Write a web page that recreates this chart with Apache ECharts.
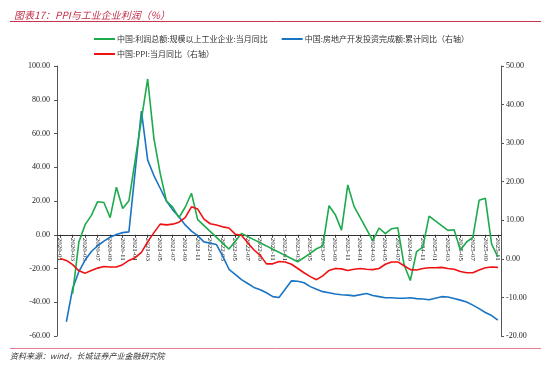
<!DOCTYPE html>
<html>
<head>
<meta charset="utf-8">
<script src="https://cdn.jsdelivr.net/npm/echarts@6/dist/echarts.min.js"></script>
<style>html,body{margin:0;padding:0;background:#fff;}#c{width:550px;height:375px;}</style>
</head>
<body>
<div id="c"></div>
<script>
const categories = [
'2020-01','2020-02','2020-03','2020-04','2020-05','2020-06','2020-07','2020-08','2020-09','2020-10','2020-11','2020-12',
'2021-01','2021-02','2021-03','2021-04','2021-05','2021-06','2021-07','2021-08','2021-09','2021-10','2021-11','2021-12',
'2022-01','2022-02','2022-03','2022-04','2022-05','2022-06','2022-07','2022-08','2022-09','2022-10','2022-11','2022-12',
'2023-01','2023-02','2023-03','2023-04','2023-05','2023-06','2023-07','2023-08','2023-09','2023-10','2023-11','2023-12',
'2024-01','2024-02','2024-03','2024-04','2024-05','2024-06','2024-07','2024-08','2024-09','2024-10','2024-11','2024-12',
'2025-01','2025-02','2025-03','2025-04','2025-05','2025-06','2025-07','2025-08','2025-09','2025-10','2025-11'];

// 中国:利润总额:规模以上工业企业:当月同比 (left axis)
const profitYoY = [
null,null,-34.9,-4.3,6.0,11.5,19.6,19.1,10.1,28.2,15.5,20.1,
null,null,92.3,57.0,36.4,20.0,16.4,10.1,16.3,24.6,9.0,null,
null,null,null,-8.5,null,0.8,null,null,null,null,null,null,
null,null,-16.0,null,-11.0,-8.3,-6.7,17.2,11.9,2.7,29.5,16.8,
null,null,-3.5,4.0,0.7,3.6,4.1,-17.8,-27.1,-10.0,-7.3,11.0,
null,null,2.6,3.0,-9.1,-4.3,-1.5,20.4,21.6,-5.5,-13.1];

// 中国:房地产开发投资完成额:累计同比 (right axis)
const realEstateYoY = [
null,-16.3,-7.7,-3.3,-0.3,1.9,3.4,4.6,5.6,6.3,6.8,7.0,
null,38.3,25.6,21.6,18.3,15.0,12.7,10.9,8.8,7.2,6.0,4.4,
null,3.7,0.7,-2.7,-4.0,-5.4,-6.4,-7.4,-8.0,-8.8,-9.8,-10.0,
null,-5.7,-5.8,-6.2,-7.2,-7.9,-8.5,-8.8,-9.1,-9.3,-9.4,-9.6,
null,-9.0,-9.5,-9.8,-10.1,-10.1,-10.2,-10.2,-10.1,-10.3,-10.4,-10.6,
null,-9.8,-9.9,-10.3,-10.7,-11.2,-12.0,-12.9,-13.9,-14.7,-15.9];

// 中国:PPI:当月同比 (right axis)
const ppiYoY = [
0.1,-0.4,-1.5,-3.1,-3.7,-3.0,-2.4,-2.0,-2.1,-2.1,-1.5,-0.4,
0.3,1.7,4.4,6.8,9.0,8.8,9.0,9.5,10.7,13.5,12.9,10.3,
9.1,8.8,8.3,8.0,6.4,6.1,4.2,2.3,0.9,-1.3,-1.3,-0.7,
-0.8,-1.4,-2.5,-3.6,-4.6,-5.4,-4.4,-3.0,-2.5,-2.6,-3.0,-2.7,
-2.5,-2.7,-2.8,-2.5,-1.4,-0.8,-0.8,-1.8,-2.8,-2.9,-2.5,-2.3,
-2.3,-2.2,-2.5,-2.7,-3.3,-3.6,-3.6,-2.9,-2.3,-2.1,-2.2];

const seriesNames = ['中国:利润总额:规模以上工业企业:当月同比','中国:房地产开发投资完成额:累计同比（右轴）','中国:PPI:当月同比（右轴）'];
const titleText = '图表17：PPI与工业企业利润（%）';
const sourceText = '资料来源：wind，长城证券产业金融研究院';

const cjk = '"Noto Sans CJK SC", sans-serif';
const serif = '"Liberation Serif", "DejaVu Serif", serif';
const gridTop = 66, gridBottom = 39, H = 375;
const leftMin = -60, leftMax = 100;
const plotH = H - gridTop - gridBottom;
const zeroOffset = -plotH * (0 - leftMin) / (leftMax - leftMin); // place x axis at left-axis zero

const chart = echarts.init(document.getElementById('c'), null, {renderer:'canvas'});
chart.setOption({
  animation: false,
  backgroundColor: '#fff',
  title: {text: titleText, left: 9, top: 5,
    textStyle: {fontSize: 10, fontStyle: 'italic', fontWeight: 'normal', color: '#c0304a', fontFamily: cjk}},
  graphic: [
    {type:'line', shape:{x1:10,y1:21.5,x2:541,y2:21.5}, style:{stroke:'#c8344e', lineWidth:1}},
    {type:'line', shape:{x1:10,y1:348.5,x2:541,y2:348.5}, style:{stroke:'#e8808f', lineWidth:1}},
    {type:'text', left:10, top:352, style:{text: sourceText, fontSize:8, fontStyle:'italic', fill:'#333', fontFamily: cjk}}
  ],
  legend: [
    {data:[seriesNames[0], seriesNames[1]], left: 89, top: 30, itemWidth: 21, itemHeight: 2, itemGap: 14, icon:'rect',
     textStyle:{fontSize: 8, color:'#333', fontFamily: cjk, padding:[0,0,0,-3]}},
    {data:[seriesNames[2]], left: 89, top: 45, itemWidth: 21, itemHeight: 2, icon:'rect',
     textStyle:{fontSize: 8, color:'#333', fontFamily: cjk, padding:[0,0,0,-3]}}
  ],
  grid: {left: 57, right: 49, top: gridTop, bottom: gridBottom, containLabel: false},
  xAxis: {
    type: 'category', data: categories, boundaryGap: true, position: 'bottom', offset: zeroOffset,
    axisLine: {onZero: false, lineStyle:{color:'#333', width:1}},
    axisTick: {show: true, interval: 1, alignWithLabel: true, length: 3, lineStyle:{color:'#333'}},
    axisLabel: {interval: 1, rotate: -90, fontSize: 7, margin: 3, color:'#222', fontFamily: serif},
    splitLine: {show:false}
  },
  yAxis: [
    {type:'value', min:leftMin, max:leftMax, interval:20, position:'left',
     axisLine:{show:true, lineStyle:{color:'#555'}}, axisTick:{show:true, length:3, lineStyle:{color:'#555'}},
     axisLabel:{formatter: v => v.toFixed(2), fontSize: 8, color:'#222', fontFamily: serif, margin: 7},
     splitLine:{show:false}},
    {type:'value', min:-20, max:50, interval:10, position:'right',
     axisLine:{show:true, lineStyle:{color:'#555'}}, axisTick:{show:true, length:3, lineStyle:{color:'#555'}},
     axisLabel:{formatter: v => v.toFixed(2), fontSize: 8, color:'#222', fontFamily: serif, margin: 5},
     splitLine:{show:false}}
  ],
  series: [
    {name: seriesNames[0], type:'line', yAxisIndex:0, data: profitYoY, connectNulls:true, showSymbol:false,
     lineStyle:{color:'#1daa4a', width:1.6}, itemStyle:{color:'#1daa4a'}, z:3},
    {name: seriesNames[1], type:'line', yAxisIndex:1, data: realEstateYoY, connectNulls:true, showSymbol:false,
     lineStyle:{color:'#1a74c4', width:1.6}, itemStyle:{color:'#1a74c4'}, z:2},
    {name: seriesNames[2], type:'line', yAxisIndex:1, data: ppiYoY, connectNulls:true, showSymbol:false,
     lineStyle:{color:'#f01010', width:1.6}, itemStyle:{color:'#f01010'}, z:4}
  ]
});
</script>
</body>
</html>
